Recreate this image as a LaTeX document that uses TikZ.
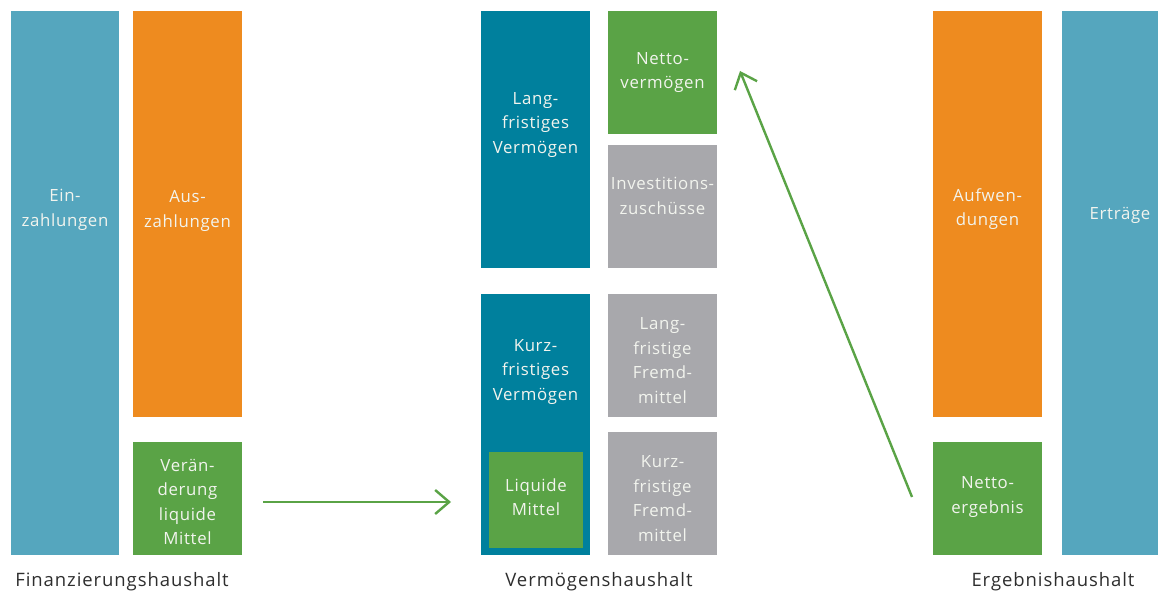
\documentclass[tikz,border=0pt]{standalone}
\usepackage{fontspec}
\setmainfont{Open Sans}
\newfontfamily\boxfont[LetterSpace=4]{Open Sans}
\newfontfamily\capfont[LetterSpace=5]{Open Sans}
\usetikzlibrary{arrows.meta}
\definecolor{lblue}{HTML}{55A6BE}
\definecolor{orng}{HTML}{EE8B1F}
\definecolor{grn}{HTML}{5AA346}
\definecolor{dteal}{HTML}{00809D}
\definecolor{gry}{HTML}{A8A8AC}
\definecolor{txt}{HTML}{F2F4EE}
\definecolor{lab}{HTML}{2E2E2E}
\tikzset{
  box/.style={inner sep=0pt, outer sep=0pt, draw=none},
  btxt/.style={text=txt, font=\boxfont\fontsize{16.8}{24.5}\selectfont, align=center, inner sep=0pt},
  captxt/.style={text=lab, font=\capfont\fontsize{18.5}{20}\selectfont, inner sep=0pt},
  flow/.style={draw=grn, line width=2.4pt, -{Straight Barb[length=14pt,width=24pt,line width=2.4pt]}}
}
\begin{document}
\begin{tikzpicture}[x=1pt,y=-1pt]
\useasboundingbox (0,0) rectangle (1158,593);
% Finanzierungshaushalt
\node[box, fill=lblue, minimum width=108pt, minimum height=544pt] (ein) at (65,283) {};
\node[box, fill=orng, minimum width=109pt, minimum height=406pt] (aus) at (187.5,214) {};
\node[box, fill=grn, minimum width=109pt, minimum height=113pt] (ver) at (187.5,498.5) {};
\node[btxt] (tein) at (65,210) {Ein-\\zahlungen};
\node[btxt] (taus) at (187.5,211) {Aus-\\zahlungen};
\node[btxt] (tver) at (187.5,502) {Verän-\\derung\\liquide\\Mittel};
\node[captxt] (cfin) at (122,582) {Finanzierungshaushalt};
% Vermoegenshaushalt
\node[box, fill=dteal, minimum width=109pt, minimum height=257pt] (lv) at (535.5,139.5) {};
\node[box, fill=grn, minimum width=109pt, minimum height=123pt] (nv) at (662.5,72.5) {};
\node[box, fill=gry, minimum width=109pt, minimum height=123pt] (iz) at (662.5,206.5) {};
\node[box, fill=dteal, minimum width=109pt, minimum height=261pt] (kv) at (535.5,424.5) {};
\node[box, fill=grn, minimum width=94pt, minimum height=96pt] (lm) at (536,500) {};
\node[box, fill=gry, minimum width=109pt, minimum height=123pt] (lf) at (662.5,355.5) {};
\node[box, fill=gry, minimum width=109pt, minimum height=123pt] (kf) at (662.5,493.5) {};
\node[btxt] (tlv) at (535.5,125) {Lang-\\fristiges\\Vermögen};
\node[btxt] (tnv) at (662.5,72.5) {Netto-\\vermögen};
\node[btxt] (tiz) at (662.5,196) {Investitions-\\zuschüsse};
\node[btxt] (tkv) at (535.5,372) {Kurz-\\fristiges\\Vermögen};
\node[btxt] (tlm) at (536,497) {Liquide\\Mittel};
\node[btxt] (tlf) at (662.5,360.5) {Lang-\\fristige\\Fremd-\\mittel};
\node[btxt] (tkf) at (662.5,498.5) {Kurz-\\fristige\\Fremd-\\mittel};
\node[captxt] (cver) at (599,582) {Vermögenshaushalt};
% Ergebnishaushalt
\node[box, fill=orng, minimum width=109pt, minimum height=406pt] (auf) at (987.5,214) {};
\node[box, fill=grn, minimum width=109pt, minimum height=113pt] (ne) at (987.5,498.5) {};
\node[box, fill=lblue, minimum width=100pt, minimum height=544pt] (ert) at (1112,283) {};
\node[btxt] (tauf) at (987.5,209) {Aufwen-\\dungen};
\node[btxt] (tne) at (987.5,497) {Netto-\\ergebnis};
\node[btxt] (tert) at (1120,215) {Erträge};
\node[captxt] (cerg) at (1053,582) {Ergebnishaushalt};
% arrows
\coordinate (a1s) at (263,502);
\coordinate (a1e) at (451,502);
\coordinate (a2s) at (912,497);
\coordinate (a2e) at (740,71);
\draw[flow] (a1s) -- (a1e);
\draw[flow] (a2s) -- (a2e);
\end{tikzpicture}
\end{document}
